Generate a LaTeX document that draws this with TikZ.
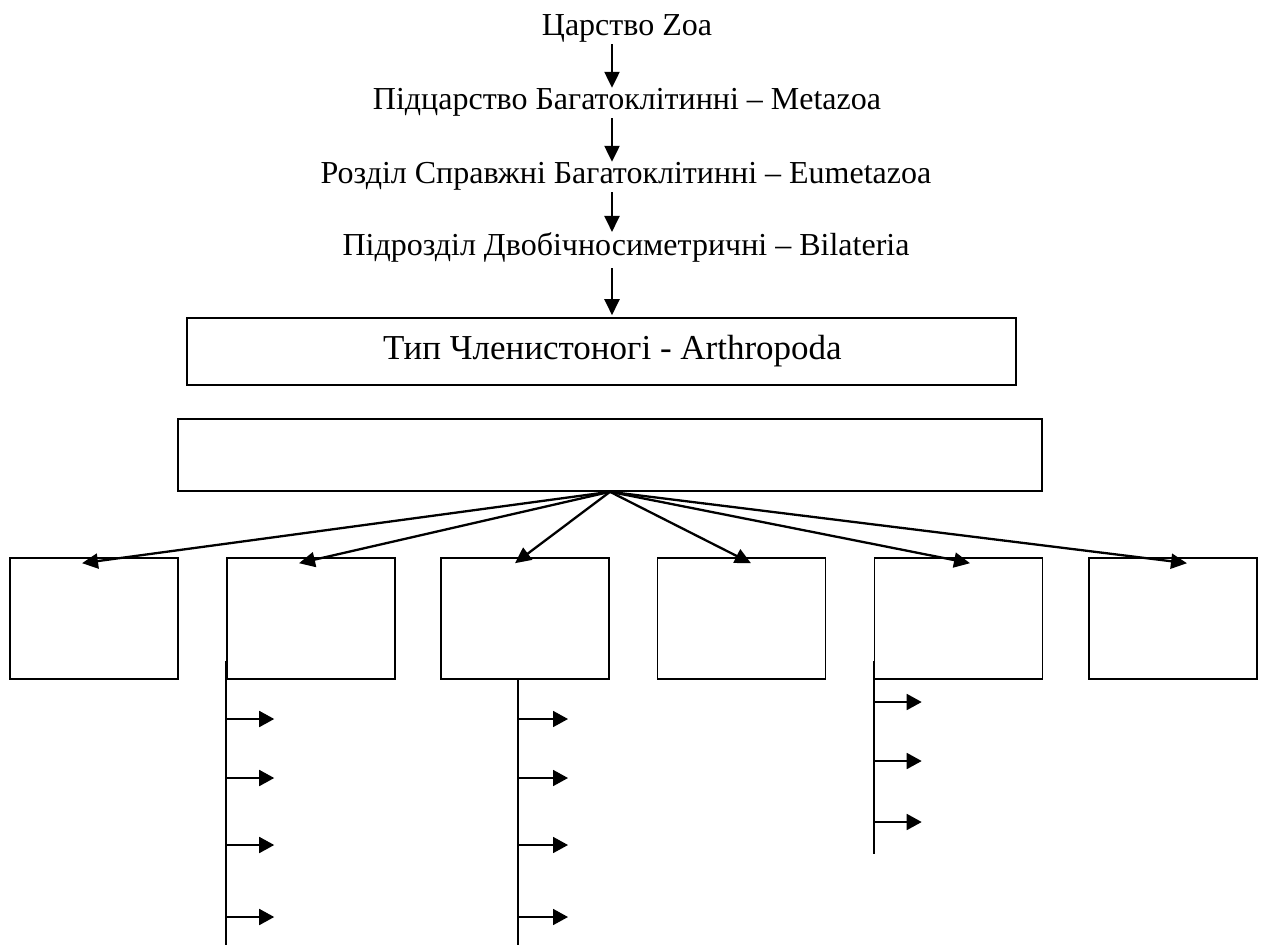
\documentclass[tikz,border=0pt]{standalone}
\usepackage{fontspec}
\setmainfont{Liberation Serif}
\usepackage{tikz}
\usetikzlibrary{arrows.meta,calc}
\newcommand{\RankFont}{\fontsize{32}{38}\selectfont}
\newcommand{\TypeFont}{\fontsize{35}{42}\selectfont}

\begin{document}
\begin{tikzpicture}[x=1pt,y=-1pt,
    rank/.style={inner sep=0pt},
    frame/.style={draw,line width=1.6pt,inner sep=0pt},
    box/.style={frame,minimum width=168pt,minimum height=121pt},
    arr/.style={-{Triangle[length=16pt,width=15pt]},line width=2.3pt},
    sidearr/.style={-{Triangle[length=15pt,width=16pt]},line width=1.8pt},
    stem/.style={line width=1.8pt}]
  \useasboundingbox (0,0) rectangle (1264,945);
  \coordinate (axis) at (612,0);
  % ranks above the type
  \node[rank] (zoa) at (627,28) {\RankFont Царство Zoa};
  \node[rank] (meta) at (627,102) {\RankFont Підцарство Багатоклітинні – Metazoa};
  \node[rank] (eume) at (626,176) {\RankFont Розділ Справжні Багатоклітинні – Eumetazoa};
  \node[rank] (bila) at (626,247) {\RankFont Підрозділ Двобічносиметричні – Bilateria};
  \node[frame,minimum width=829pt,minimum height=67pt] (arthro) at (601.5,351.5) {\TypeFont\hspace*{22pt}Тип Членистоногі - Arthropoda};
  \node[frame,minimum width=864pt,minimum height=72pt] (kls) at (610,455) {};
  \draw[arr] ([yshift=-2pt]zoa.south -| axis) -- (meta.north -| axis);
  \draw[arr] ([yshift=-2pt]meta.south -| axis) -- (eume.north -| axis);
  \draw[arr] ([yshift=-2pt]eume.south -| axis) -- (bila.north -| axis);
  \draw[arr] ([yshift=-6pt]bila.south -| axis) -- ([yshift=2pt]arthro.north -| axis);
  % six classes
  \foreach \n/\x in {1/94,2/311,3/525,4/741.5,5/958.5,6/1173}
    \node[box] (b\n) at (\x,618.5) {};
  \foreach \n/\dx in {1/-12,2/-12,3/-10,4/9.5,5/11.5,6/14}
    \draw[arr] (kls.south) -- ($(b\n.north)+(\dx,6)$);
  % orders
  \draw[stem] ([yshift=19pt]b2.south west) -- ++(0,286);
  \draw[stem] ([xshift=-7pt]b3.south) -- ++(0,266);
  \draw[stem] ([yshift=19pt]b5.south west) -- ++(0,193);
  \foreach \y in {719,778,845,917} {
    \draw[sidearr] (b2.west |- 0,\y) -- ++(48,0);
    \draw[sidearr] ([xshift=-7pt]b3.south |- 0,\y) -- ++(50,0);
  }
  \foreach \y in {702,761,822}
    \draw[sidearr] (b5.west |- 0,\y) -- ++(48,0);
\end{tikzpicture}
\end{document}
